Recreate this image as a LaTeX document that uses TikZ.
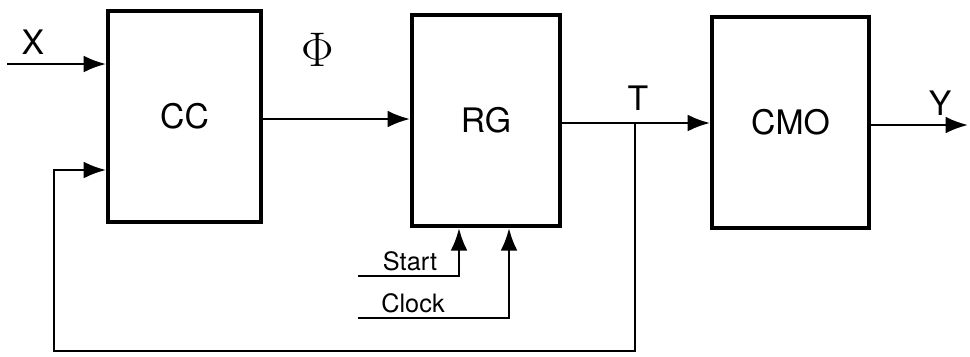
\documentclass[tikz,border=0pt]{standalone}
\usepackage{fontspec}
\setmainfont{TeX Gyre Heros}
\usetikzlibrary{arrows.meta}
\begin{document}
\begin{tikzpicture}[x=0.0125cm, y=-0.0125cm, font=\large,
    >={Latex[length=2.8mm,width=2.1mm]},
    block/.style={draw, line width=1.4pt, minimum height=2.64cm, inner sep=0pt},
    wire/.style={line width=0.9pt},
    lbl/.style={inner sep=1pt}]
  \useasboundingbox (0,0) rectangle (970,356);
  % blocks
  \node[block, minimum width=1.91cm] (CC)  at (184.5,116.5) {CC};
  \node[block, minimum width=1.85cm] (RG)  at (486,120.5)   {RG};
  \node[block, minimum width=1.96cm] (CMO) at (790.5,122.5) {CMO};
  % free ends
  \coordinate (xin)  at (7,64);
  \coordinate (fb)   at (54,170);
  \coordinate (tap)  at (635,123);
  \coordinate (bot)  at (635,351);
  \coordinate (yout) at (968,125);
  \coordinate (st)   at (358,276);
  \coordinate (ck)   at (358,318);
  \coordinate (stx)  at (459,0);
  \coordinate (ckx)  at (509,0);
  % labels
  \node[lbl] (Xl) at (33,42)  {X};
  \node[lbl] (Fl) at (318,50) {\LARGE$\Phi$};
  \node[lbl] (Tl) at (638,98) {T};
  \node[lbl] (Yl) at (940,103) {Y};
  \node[lbl, font=\small] (Sl) at (410,261) {Start};
  \node[lbl, font=\small] (Kl) at (413,303) {Clock};
  % connectors
  \draw[wire, ->] (xin) -- (xin -| CC.west);
  \draw[wire, ->] (CC.east |- 0,119) -- (RG.west |- 0,119);
  \draw[wire, ->] (RG.east |- tap) -- (tap -| CMO.west);
  \draw[wire, ->] (CMO.east |- yout) -- (yout);
  \draw[wire, ->] (tap) -- (bot) -| (fb) -- (fb -| CC.west);
  \draw[wire, ->] (st) -| (stx |- RG.south);
  \draw[wire, ->] (ck) -| (ckx |- RG.south);
\end{tikzpicture}
\end{document}
